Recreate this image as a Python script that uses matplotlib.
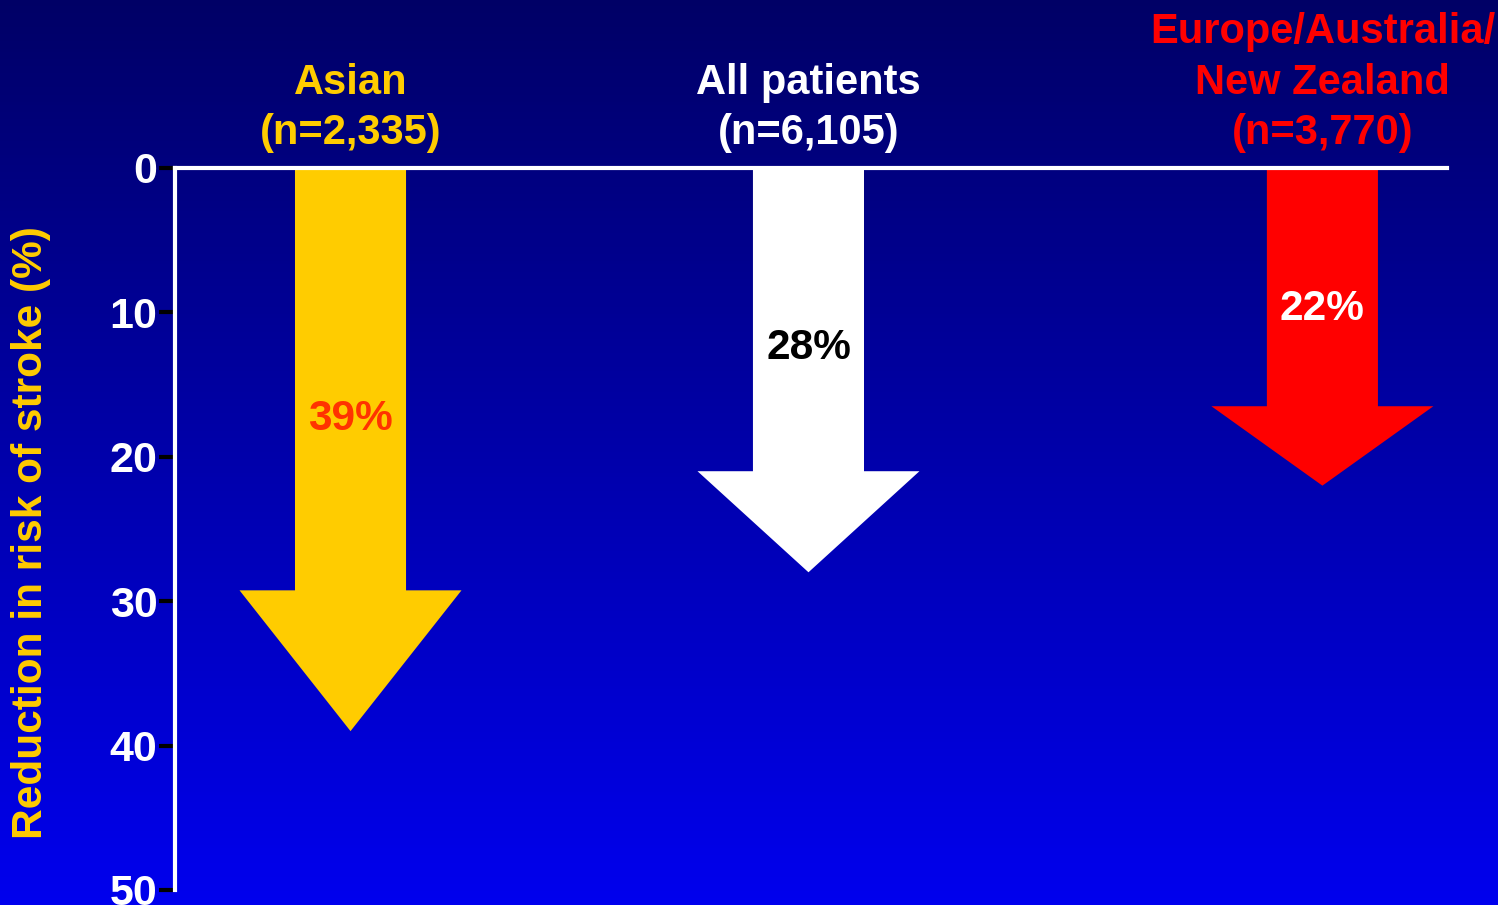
import numpy as np
import matplotlib.pyplot as plt
from matplotlib.patches import FancyArrow

plt.rcParams['font.family'] = ['Liberation Sans', 'DejaVu Sans']
plt.rcParams['font.weight'] = 'bold'

# data
groups = ['Asian\n(n=2,335)', 'All patients\n(n=6,105)',
          'Europe/Australia/\nNew Zealand\n(n=3,770)']
reduction = [39, 28, 22]
value_labels = ['39%', '28%', '22%']
yticks = [0, 10, 20, 30, 40, 50]

# styling
xpos = [1.38, 4.98, 9.02]
arrow_colors = ['#FFCC00', '#FFFFFF', '#FF0000']
title_colors = ['#FFCC00', '#FFFFFF', '#FF0000']
label_colors = ['#FF3300', '#000000', '#FFFFFF']

fig = plt.figure(figsize=(14.98, 9.05), dpi=100)

# vertical gradient background
bg = fig.add_axes([0, 0, 1, 1], zorder=0)
grad = np.linspace(0, 1, 256).reshape(-1, 1)
top = np.array([0x00, 0x00, 0x66]) / 255
bottom = np.array([0x00, 0x00, 0xEE]) / 255
img = top + grad[..., None] * (bottom - top)
bg.imshow(img, aspect='auto', extent=[0, 1, 0, 1], origin='upper')
bg.axis('off')

ax = fig.add_axes([0.1168, 0.0166, 0.8492, 0.7978], zorder=1)
ax.patch.set_alpha(0)
ax.set_xlim(0, 10)
ax.set_ylim(50, 0)

for x, v, c in zip(xpos, reduction, arrow_colors):
    ax.add_patch(FancyArrow(x, 0, 0, v, width=0.873, head_width=1.745,
                            head_length=0.25 * v, length_includes_head=True,
                            color=c, lw=0))

for x, v, lab, c in zip(xpos, reduction, value_labels, label_colors):
    ax.text(x, 0.445 * v, lab, ha='center', va='center', color=c,
            fontsize=30.5, fontweight='bold')

for x, g, c in zip(xpos, groups, title_colors):
    ax.text(x, -1.05, g, ha='center', va='bottom', color=c,
            fontsize=30, fontweight='bold', linespacing=1.33)

ax.set_yticks(yticks)
ax.set_yticklabels([str(t) for t in yticks])
ax.set_xticks([])
ax.tick_params(axis='y', colors='black', length=11.5, width=3, pad=1,
               labelcolor='white', labelsize=31)
for t in ax.get_yticklabels():
    t.set_fontweight('bold')

for s in ['right', 'bottom']:
    ax.spines[s].set_visible(False)
for s in ['left', 'top']:
    ax.spines[s].set_color('white')
    ax.spines[s].set_linewidth(3)

fig.text(0.021, 0.412, 'Reduction in risk of stroke (%)', rotation=90,
         ha='center', va='center', color='#FFCC00', fontsize=30.5,
         fontweight='bold')

fig.savefig('out.png', dpi=100)
